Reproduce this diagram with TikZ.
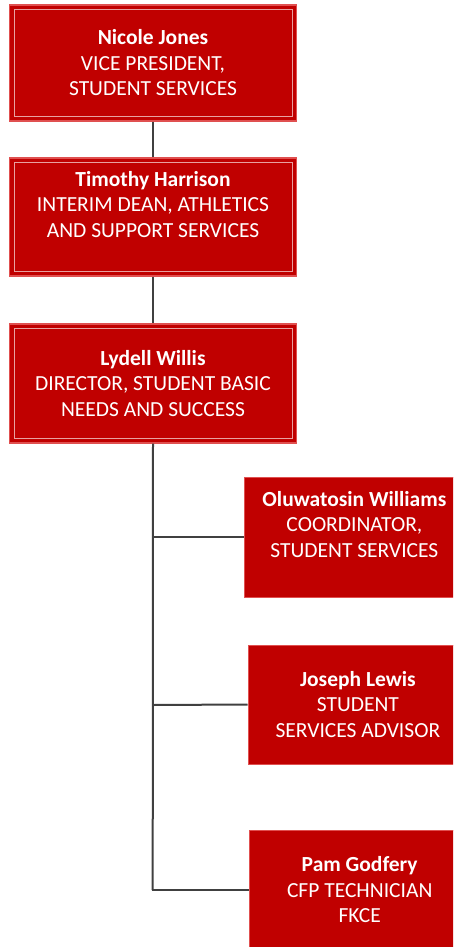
\documentclass[tikz,border=0pt]{standalone}
\usepackage{fontspec}
\setmainfont{Carlito}
\definecolor{boxred}{HTML}{C00000}
\definecolor{boxedge}{HTML}{E05050}
\definecolor{innerln}{HTML}{E8A0A0}
\definecolor{linkgray}{HTML}{404040}
\tikzset{
  txt/.style={text=white, align=center, font=\fontsize{21.5}{25.5}\selectfont, inner sep=0pt},
  topbox/.style={txt, fill=boxred, draw=boxedge, line width=1.2pt,
    minimum width=287pt, minimum height=#1,
    path picture={\draw[innerln, line width=0.9pt]
      ([shift={(4.5pt,4.5pt)}]path picture bounding box.south west) rectangle
      ([shift={(-4.5pt,-4.5pt)}]path picture bounding box.north east);}},
  subbox/.style={txt, fill=boxred, draw=boxedge, line width=0.8pt,
    minimum width=220pt, minimum height=#1},
  link/.style={draw=linkgray, line width=2pt}
}
\begin{document}
\begin{tikzpicture}[x=1pt,y=-1pt]
\useasboundingbox (0,0) rectangle (453,947);
\clip (0,0) rectangle (453,947);
\node[topbox=116pt] (nj) at (153,63) {\textbf{Nicole Jones}\\VICE PRESIDENT,\\STUDENT SERVICES};
\node[topbox=118pt] (th) at (153,217) {\textbf{Timothy Harrison}\\INTERIM DEAN, ATHLETICS\\AND SUPPORT SERVICES\\\mbox{}};
\node[topbox=119pt] (lw) at (153,383.5) {\textbf{Lydell Willis}\\DIRECTOR, STUDENT BASIC\\NEEDS AND SUCCESS};
\node[subbox=120pt, anchor=west] (ow) at (244,537) {\textbf{Oluwatosin Williams}\\COORDINATOR,\\STUDENT SERVICES\\\mbox{}};
\node[subbox=119pt, anchor=west] (jl) at (247.5,704.5) {\textbf{Joseph Lewis}\\STUDENT\\SERVICES ADVISOR};
\node[subbox=120pt, anchor=west] (pg) at (249.3,890) {\textbf{Pam Godfery}\\CFP TECHNICIAN\\FKCE};
\coordinate (j1) at (152.7,537);
\coordinate (j2) at (152.7,705);
\coordinate (j3) at (152.7,890);
\path[link] (nj.south) -- (th.north);
\path[link] (th.south) -- (lw.north);
\path[link] (lw.south) -- (j3);
\path[link] (j1) -- (ow.west);
\path[link] (j2) -- (jl.west);
\path[link] ([xshift=-1pt]j3) -- (pg.west);
\end{tikzpicture}
\end{document}
